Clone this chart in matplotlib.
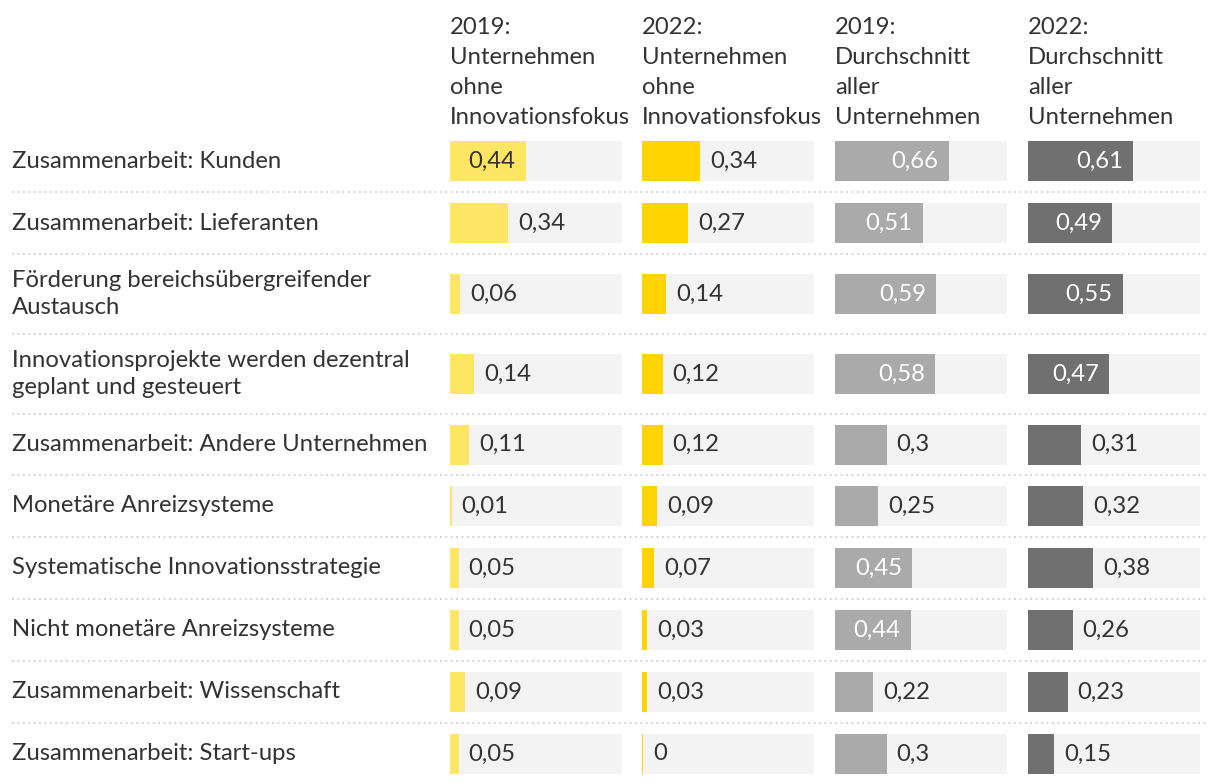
import matplotlib.pyplot as plt
import numpy as np

plt.rcParams['font.family'] = ['Lato', 'DejaVu Sans']

labels = ['Zusammenarbeit: Kunden',
          'Zusammenarbeit: Lieferanten',
          'Förderung bereichsübergreifender\nAustausch',
          'Innovationsprojekte werden dezentral\ngeplant und gesteuert',
          'Zusammenarbeit: Andere Unternehmen',
          'Monetäre Anreizsysteme',
          'Systematische Innovationsstrategie',
          'Nicht monetäre Anreizsysteme',
          'Zusammenarbeit: Wissenschaft',
          'Zusammenarbeit: Start-ups']

headers = ['2019:\nUnternehmen\nohne\nInnovationsfokus',
           '2022:\nUnternehmen\nohne\nInnovationsfokus',
           '2019:\nDurchschnitt\naller\nUnternehmen',
           '2022:\nDurchschnitt\naller\nUnternehmen']

ohne_2019 = [0.44, 0.34, 0.06, 0.14, 0.11, 0.01, 0.05, 0.05, 0.09, 0.05]
ohne_2022 = [0.34, 0.27, 0.14, 0.12, 0.12, 0.09, 0.07, 0.03, 0.03, 0]
alle_2019 = [0.66, 0.51, 0.59, 0.58, 0.3, 0.25, 0.45, 0.44, 0.22, 0.3]
alle_2022 = [0.61, 0.49, 0.55, 0.47, 0.31, 0.32, 0.38, 0.26, 0.23, 0.15]

columns = [ohne_2019, ohne_2022, alle_2019, alle_2022]
bar_colors = ['#ffe564', '#ffd400', '#aaaaaa', '#707070']
inside_text = ['#333333', '#333333', 'white', 'white']

# layout in pixels
col_x = [450, 642, 835, 1028]
col_w = 172
bar_h = 40
text_col = '#333333'
fs = 17.2

# row boundaries (two-line rows are taller)
row_h = [80 if '\n' in l else 62 for l in labels]
row_h[4] = 61
tops = 130 + np.concatenate([[0], np.cumsum(row_h)[:-1]])
centers = tops + np.array(row_h) / 2

fig = plt.figure(figsize=(12.2, 7.84), dpi=100)
ax = fig.add_axes([0, 0, 1, 1])
ax.set_xlim(0, 1220)
ax.set_ylim(784, 0)
ax.axis('off')

# headers
for x, h in zip(col_x, headers):
    ax.text(x, 128, h, ha='left', va='bottom', fontsize=fs, color=text_col,
            linespacing=1.52)

# row labels and separators
for i, (lab, yc) in enumerate(zip(labels, centers)):
    ax.text(12, yc, lab, ha='left', va='center', fontsize=fs, color=text_col,
            linespacing=1.33)
    if i > 0:
        ax.plot([12, 1208], [tops[i], tops[i]], color='#cfcfcf', lw=1.3,
                ls=(0, (1, 2)))

# bars
for c, vals in enumerate(columns):
    vals = np.array(vals)
    ax.barh(centers, col_w, left=col_x[c], height=bar_h, color='#f3f3f3')
    widths = np.maximum(vals * col_w, 1.2)
    ax.barh(centers, widths, left=col_x[c], height=bar_h, color=bar_colors[c])
    for v, w, yc in zip(vals, widths, centers):
        s = f'{v:g}'.replace('.', ',')
        if v >= 0.40:
            ax.text(col_x[c] + w - 10, yc, s, ha='right', va='center',
                    fontsize=fs, color=inside_text[c])
        else:
            ax.text(col_x[c] + w + 10, yc, s, ha='left', va='center',
                    fontsize=fs, color=text_col)

fig.savefig('out.png', dpi=100)
